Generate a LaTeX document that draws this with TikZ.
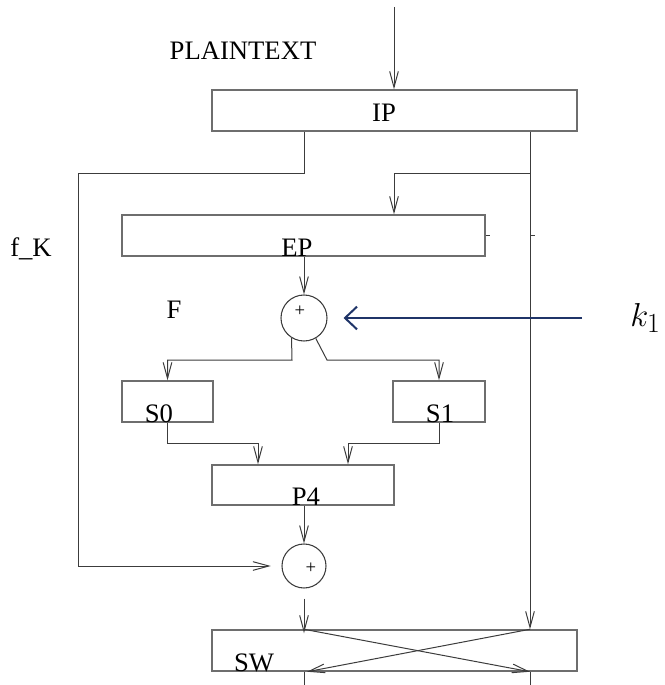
\documentclass[tikz,border=0pt]{standalone}
\usepackage{fontspec}
\setmainfont{Liberation Serif}
\usetikzlibrary{positioning,arrows.meta,calc,fit}
\definecolor{wireGray}{HTML}{3C3C3C}
\definecolor{boxGray}{HTML}{6E6E6E}
\definecolor{keyNavy}{HTML}{1F3468}

\begin{document}
\begin{tikzpicture}[x=0.75pt, y=-0.75pt, >={Straight Barb[length=12pt,width=6.5pt]},
          box/.style={draw=boxGray, line width=1.1pt, inner sep=0pt},
          xor/.style={draw=wireGray, circle, line width=0.8pt, inner sep=0pt},
          wire/.style={draw=wireGray, line width=0.75pt},
          keyarr/.style={draw=keyNavy, line width=1.5pt, -{Straight Barb[length=9pt,width=17pt]}},
          tag/.style={anchor=base, inner sep=0pt, font=\fontsize{20}{22}\selectfont},
          plus/.style={inner sep=0pt, font=\fontsize{14}{16}\selectfont}]
        \useasboundingbox (0,0) rectangle (664,685);
        \node[box, fit={(212,90)(577,131)}] (ip) {};
        \node[box, fit={(122,215)(485,256)}] (ep) {};
        \node[box, fit={(122,381)(213,422)}] (s0) {};
        \node[box, fit={(393,381)(485,422)}] (s1) {};
        \node[box, fit={(212,465)(394,505)}] (p4) {};
        \node[box, fit={(212,630)(577,671)}] (sw) {};
        \node[xor, minimum size=34.5pt] at (304,318) (x1) {};
        \node[xor, minimum size=33pt] at (304,566) (x2) {};
        \node[plus] (p1) at (300,311) {+};
        \node[plus] (p2) at (311,568) {+};
        \node[tag] (pt) at (243,60) {PLAINTEXT};
        \node[tag] (iplab) at (384,122) {IP};
        \node[tag] (eplab) at (297,256) {EP};
        \node[tag] (fk) at (31,256) {f\_K};
        \node[tag] (flab) at (174,318) {F};
        \node[tag] (s0lab) at (159,422) {S0};
        \node[tag] (s1lab) at (440,422) {S1};
        \node[tag] (p4lab) at (306,505) {P4};
        \node[tag] (swlab) at (254,671) {SW};
        \node[anchor=base west, inner sep=0pt, font=\fontsize{30}{32}\selectfont] (k1) at (630,326) {$k_1$};
        \coordinate (src) at (394,7);
        \coordinate (lsplit) at (304,173);
        \coordinate (lcorner) at (78,173);
        \coordinate (lbot) at (78,566);
        \coordinate (rsplit) at (530,173);
        \coordinate (kin) at (582,318);
        \coordinate (lfork) at (292,360);
        \coordinate (rfork) at (327,360);
        \coordinate (p4l) at (258,443);
        \coordinate (p4r) at (348,443);
        \coordinate (outl) at (304,685);
        \draw[wire, ->] (src) -- (src |- ip.north);
        \draw[wire] (ip.south -| lsplit) -- (lsplit) -- (lcorner) -- (lbot);
        \draw[wire, ->, shorten >=8pt] (lbot) -- (x2.west);
        \draw[wire, ->] (ip.south -| rsplit) -- (sw.north -| rsplit);
        \draw[wire, ->] (rsplit) -| (ep.north -| src);
        \draw[wire] (ep.east) -- ++(4,0);
        \draw[wire] (rsplit |- ep.east) -- ++(5,0);
        \draw[wire, ->] (ep.south -| x1) -- (x1.north);
        \draw[keyarr, shorten >=12pt] (kin) -- (x1.east);
        \draw[wire, ->] (x1.238) -- (lfork) -| (s0.north);
        \draw[wire, ->] (x1.300) -- (rfork) -| (s1.north);
        \draw[wire, ->] (s0.south) |- (p4l) -- (p4.north -| p4l);
        \draw[wire, ->] (s1.south) |- (p4r) -- (p4.north -| p4r);
        \draw[wire, ->] (p4.south -| x2) -- (x2.north);
        \draw[wire, ->, shorten <=7.5pt, shorten >=-3pt] (x2.south) -- (sw.north -| x2);
        \draw[wire, ->] (sw.north -| x2) -- (sw.south -| rsplit);
        \draw[wire, ->] (sw.north -| rsplit) -- ($(sw.south -| x2)+(3,0)$);
        \draw[wire] (sw.south -| x2) -- (outl);
        \draw[wire] (sw.south -| rsplit) -- (rsplit |- outl);
      \end{tikzpicture}
\end{document}
